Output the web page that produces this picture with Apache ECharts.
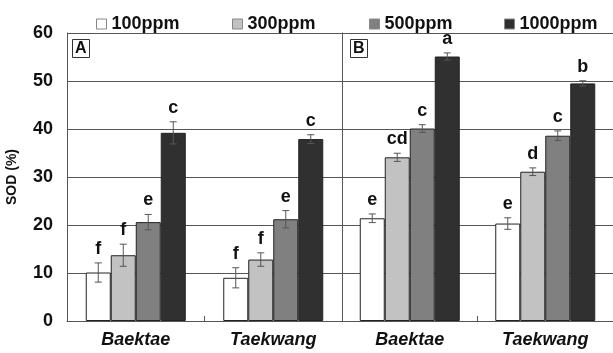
<!DOCTYPE html>
<html><head><meta charset="utf-8">
<script src="https://cdn.jsdelivr.net/npm/echarts@6/dist/echarts.min.js"></script>
<style>html,body{margin:0;padding:0;background:#fff}#c{width:613px;height:353px}</style>
</head><body><div id="c"></div>
<script>
// ---- data ----
const categories = ['Baektae', 'Taekwang'];
const seriesNames = ['100ppm', '300ppm', '500ppm', '1000ppm'];
const yTicks = [0, 10, 20, 30, 40, 50, 60];
// Panel A
const a100 = [10.1, 9.0];
const a300 = [13.7, 12.8];
const a500 = [20.6, 21.2];
const a1000 = [39.2, 37.9];
const aErr100 = [2.0, 2.1];
const aErr300 = [2.3, 1.4];
const aErr500 = [1.6, 1.8];
const aErr1000 = [2.3, 0.9];
const aLet100 = ['f', 'f'];
const aLet300 = ['f', 'f'];
const aLet500 = ['e', 'e'];
const aLet1000 = ['c', 'c'];
// Panel B
const b100 = [21.4, 20.3];
const b300 = [34.1, 31.1];
const b500 = [40.1, 38.6];
const b1000 = [55.1, 49.5];
const bErr100 = [0.9, 1.2];
const bErr300 = [0.85, 0.8];
const bErr500 = [0.8, 1.0];
const bErr1000 = [0.75, 0.55];
const bLet100 = ['e', 'e'];
const bLet300 = ['cd', 'd'];
const bLet500 = ['c', 'c'];
const bLet1000 = ['a', 'b'];

// ---- styling ----
const colors = ['#ffffff', '#c2c2c2', '#808080', '#303030'];
const FONT = '"Liberation Sans", Arial, sans-serif';
const BW = 25;
const lineCol = '#555';

const panels = [
  {vals: [a100, a300, a500, a1000], errs: [aErr100, aErr300, aErr500, aErr1000], lets: [aLet100, aLet300, aLet500, aLet1000]},
  {vals: [b100, b300, b500, b1000], errs: [bErr100, bErr300, bErr500, bErr1000], lets: [bLet100, bLet300, bLet500, bLet1000]}
];

const grids = [
  {left: 67, right: 271, top: 33, bottom: 32},
  {left: 342, right: 0, top: 33, bottom: 32}
];

const xAxes = grids.map((g, i) => ({
  type: 'category', gridIndex: i, data: categories,
  axisLine: {lineStyle: {color: lineCol, width: 1}},
  axisTick: {show: true, inside: true, length: 5, lineStyle: {color: lineCol}},
  axisLabel: {fontFamily: FONT, fontWeight: 'bold', fontStyle: 'italic', fontSize: 18, color: '#111', margin: 10}
}));
const yAxes = grids.map((g, i) => ({
  type: 'value', gridIndex: i, min: yTicks[0], max: yTicks[yTicks.length - 1], interval: 10,
  axisLine: {show: true, lineStyle: {color: lineCol, width: 1}},
  axisTick: {show: false},
  axisLabel: {show: i === 0, fontFamily: FONT, fontWeight: 'bold', fontSize: 18, color: '#111', margin: 14},
  splitLine: {show: true, lineStyle: {color: lineCol, width: 1}},
  name: i === 0 ? 'SOD (%)' : '', nameLocation: 'middle', nameRotate: 90, nameGap: 48,
  nameTextStyle: {fontFamily: FONT, fontWeight: 'bold', fontSize: 14, color: '#111'}
}));

const series = [];
panels.forEach((p, gi) => {
  p.vals.forEach((v, si) => {
    series.push({
      type: 'bar', name: seriesNames[si], xAxisIndex: gi, yAxisIndex: gi,
      data: v, barWidth: BW, barGap: '0%',
      itemStyle: {color: colors[si], borderColor: '#222', borderWidth: 1},
      emphasis: {disabled: true}, animation: false
    });
  });
  p.vals.forEach((v, si) => {
    const off = (si - 1.5) * BW;
    series.push({
      type: 'custom', xAxisIndex: gi, yAxisIndex: gi, z: 10, animation: false,
      data: v.map((val, ci) => [ci, val, p.errs[si][ci]]),
      renderItem: function (params, api) {
        const ci = api.value(0), val = api.value(1), e = api.value(2);
        const letter = p.lets[si][ci];
        const x = api.coord([ci, val])[0] + off;
        const yt = api.coord([ci, val + e])[1];
        const yb = api.coord([ci, val - e])[1];
        const st = {stroke: '#555', lineWidth: 1};
        return {type: 'group', children: [
          {type: 'line', shape: {x1: x, y1: yt, x2: x, y2: yb}, style: st},
          {type: 'line', shape: {x1: x - 3.5, y1: yt, x2: x + 3.5, y2: yt}, style: st},
          {type: 'line', shape: {x1: x - 3.5, y1: yb, x2: x + 3.5, y2: yb}, style: st},
          {type: 'text', style: {text: letter, x: x, y: yt - 5, textAlign: 'center', textVerticalAlign: 'bottom',
            fontFamily: FONT, fontWeight: 'bold', fontSize: 18, fill: '#111'}}
        ]};
      }
    });
  });
});

const legendLeft = [96, 232, 369, 504];
const legends = seriesNames.map((n, i) => ({
  data: [n], left: legendLeft[i], top: 15, padding: 0, itemWidth: 10, itemHeight: 10, icon: 'rect',
  itemStyle: {borderColor: '#888', borderWidth: 1},
  textStyle: {fontFamily: FONT, fontWeight: 'bold', fontSize: 18, color: '#111', padding: [0, 0, 0, 0]},
  selectedMode: false
}));

const titles = [
  {text: 'A', left: 72, top: 39},
  {text: 'B', left: 350, top: 39}
].map(t => Object.assign(t, {
  padding: [1, 3, 1, 3], borderColor: '#333', borderWidth: 1, backgroundColor: '#fff',
  textStyle: {fontFamily: FONT, fontWeight: 'bold', fontSize: 16, color: '#111', lineHeight: 17}
}));

const chart = echarts.init(document.getElementById('c'), null, {renderer: 'canvas'});
chart.setOption({
  animation: false,
  title: titles,
  legend: legends,
  grid: grids,
  xAxis: xAxes,
  yAxis: yAxes,
  series: series
});
</script></body></html>
